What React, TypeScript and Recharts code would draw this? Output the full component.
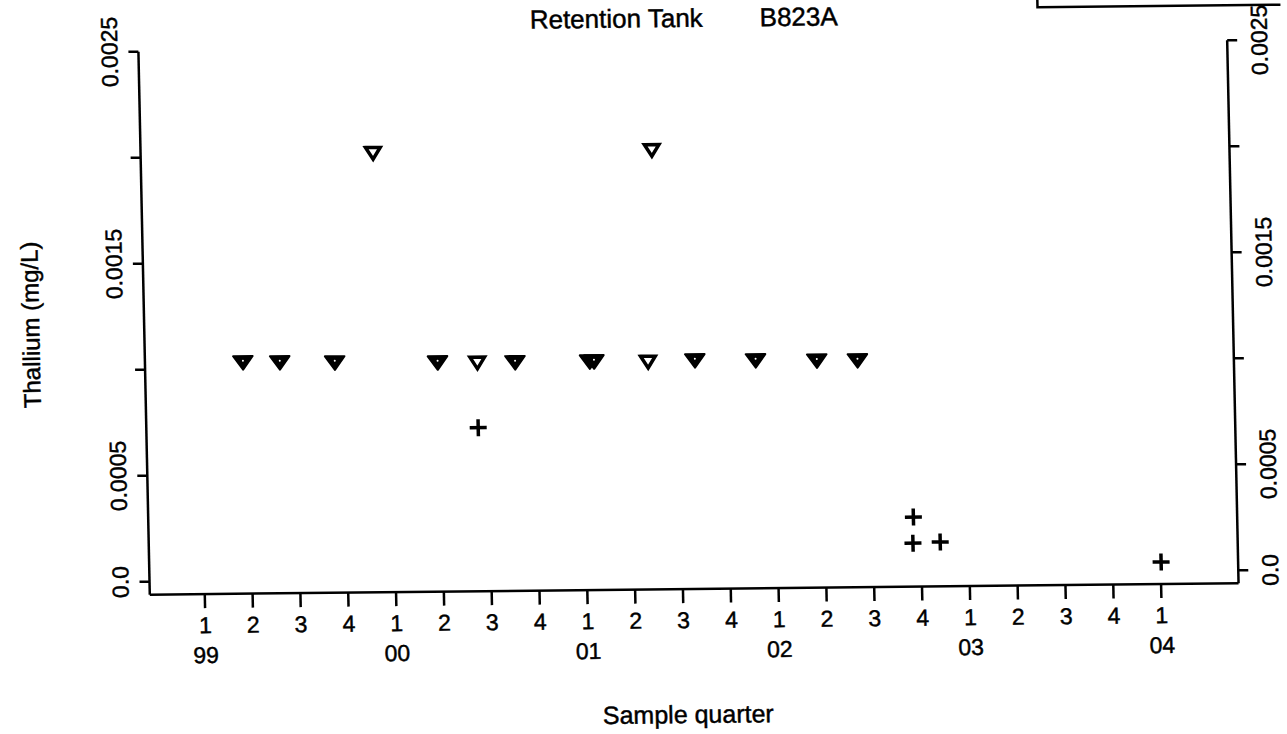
import React from 'react';
import { ScatterChart, Scatter, XAxis, YAxis } from 'recharts';

// ---- data (x = quarter index, 0 = 1999 Q1; y = Thallium mg/L) ----
const filledQuarter = [0.9, 1.67, 2.82, 4.97, 6.59, 8.15, 8.24, 10.35, 11.62, 12.9, 13.75];
const filledValue = [0.001028, 0.001026, 0.001023, 0.001018, 0.001015, 0.001015, 0.001015, 0.001015, 0.001012, 0.001008, 0.001007];

const openQuarter = [3.71, 5.8, 9.37, 9.54];
const openValue = [0.00201, 0.001016, 0.001012, 0.00201];

const crossQuarter = [5.79, 14.85, 14.83, 15.4, 20.01];
const crossValue = [0.00071, 0.000267, 0.000144, 0.000148, 0.000043];

const quarterTicks = [0, 1, 2, 3, 4, 5, 6, 7, 8, 9, 10, 11, 12, 13, 14, 15, 16, 17, 18, 19, 20];
const quarterLabels = ['1', '2', '3', '4', '1', '2', '3', '4', '1', '2', '3', '4', '1', '2', '3', '4', '1', '2', '3', '4', '1'];
const yearLabels = ['99', '00', '01', '02', '03', '04'];

const yTicks = [0, 0.0005, 0.001, 0.0015, 0.002, 0.0025];
const yTickLabels = ['0.0', '0.0005', '', '0.0015', '', '0.0025'];

const titleLeft = 'Retention Tank';
const titleRight = 'B823A';
const xTitle = 'Sample quarter';
const yTitle = 'Thallium (mg/L)';

const FONT = '"Liberation Sans", Arial, Helvetica, sans-serif';
const FS = 23;
const TXT_STROKE = 0.45;

const filledData = filledQuarter.map((q, i) => ({ q, v: filledValue[i] }));
const openData = openQuarter.map((q, i) => ({ q, v: openValue[i] }));
const crossData = crossQuarter.map((q, i) => ({ q, v: crossValue[i] }));

const FilledTri = (p: any) => {
  const { cx, cy } = p;
  return (
    <g>
      <path
        d={`M${cx - 9.8},${cy - 6.6} L${cx + 9.8},${cy - 6.6} L${cx},${cy + 7} Z`}
        fill="#000"
        stroke="#000"
        strokeWidth={2}
        strokeLinejoin="round"
      />
      <circle cx={cx} cy={cy - 2} r={1} fill="#fff" />
    </g>
  );
};

const OpenTri = (p: any) => {
  const { cx, cy } = p;
  return (
    <path
      d={`M${cx - 7.3},${cy - 5.6} L${cx + 7.3},${cy - 5.6} L${cx},${cy + 6} Z`}
      fill="none"
      stroke="#000"
      strokeWidth={3.5}
      strokeLinejoin="miter"
    />
  );
};

const Cross = (p: any) => {
  const { cx, cy } = p;
  return (
    <g stroke="#000" strokeWidth={3.5}>
      <line x1={cx - 8.5} y1={cy} x2={cx + 8.5} y2={cy} />
      <line x1={cx} y1={cy - 8.5} x2={cx} y2={cy + 8.5} />
    </g>
  );
};

const XTick = (props: any) => {
  const { x, y, payload } = props;
  const v = Math.round(payload.value);
  const i = quarterTicks.indexOf(v);
  return (
    <g fontFamily={FONT} fontSize={FS} fill="#000" stroke="#000" strokeWidth={TXT_STROKE}>
      <text x={x} y={y + 25} textAnchor="middle">{quarterLabels[i]}</text>
      {v % 4 === 0 && (
        <text x={x} y={y + 55} textAnchor="middle">{yearLabels[v / 4]}</text>
      )}
    </g>
  );
};

const makeYTick = (dx: number) => (props: any) => {
  const { x, y, payload } = props;
  const i = yTicks.indexOf(payload.value);
  const label = i >= 0 ? yTickLabels[i] : '';
  if (!label) return <g />;
  return (
    <text
      x={0}
      y={0}
      transform={`translate(${x + dx},${y}) rotate(-90)`}
      textAnchor="middle"
      fontFamily={FONT}
      fontSize={FS}
      fill="#000"
      stroke="#000"
      strokeWidth={TXT_STROKE}
    >
      {label}
    </text>
  );
};

const LeftTick = makeYTick(-11);
const RightTick = makeYTick(30);

const W = 1287;
const H = 734;
const X_DOMAIN: [number, number] = [-1.15, 21.62];
const Y_DOMAIN: [number, number] = [-0.0000613, 0.0025];
const lineStyle = { stroke: '#000', strokeWidth: 2.5 };

export default function App() {
  return (
    <div style={{ position: 'absolute', left: 0, top: 0, width: W, height: H, background: '#fff', overflow: 'hidden' }}>
      <div
        style={{
          position: 'absolute',
          left: 0,
          top: 0,
          width: W,
          height: H,
          transform: 'skewX(1.2deg) skewY(-0.6deg)',
          transformOrigin: '688px 318px',
        }}
      >
        <ScatterChart width={W} height={H} margin={{ top: 46, right: 0, bottom: 0, left: 0 }}>
          <XAxis
            xAxisId="bottom"
            type="number"
            dataKey="q"
            domain={X_DOMAIN}
            ticks={quarterTicks}
            interval={0}
            allowDataOverflow
            height={145}
            tickSize={14}
            tickMargin={0}
            axisLine={lineStyle}
            tickLine={lineStyle}
            tick={<XTick />}
          />
          <XAxis
            xAxisId="top"
            orientation="top"
            type="number"
            dataKey="q"
            domain={X_DOMAIN}
            allowDataOverflow
            height={0}
            tick={false}
            tickLine={false}
            axisLine={lineStyle}
          />
          <YAxis
            yAxisId="left"
            type="number"
            dataKey="v"
            domain={Y_DOMAIN}
            ticks={yTicks}
            interval={0}
            allowDataOverflow
            width={144}
            tickSize={10}
            tickMargin={0}
            axisLine={lineStyle}
            tickLine={lineStyle}
            tick={LeftTick}
          />
          <YAxis
            yAxisId="right"
            orientation="right"
            type="number"
            dataKey="v"
            domain={Y_DOMAIN}
            ticks={yTicks}
            interval={0}
            allowDataOverflow
            width={54}
            tickSize={10}
            tickMargin={0}
            axisLine={lineStyle}
            tickLine={lineStyle}
            tick={RightTick}
          />
          <Scatter
            name="filled"
            data={filledData}
            xAxisId="bottom"
            yAxisId="left"
            shape={FilledTri}
            isAnimationActive={false}
          />
          <Scatter
            name="open"
            data={openData}
            xAxisId="bottom"
            yAxisId="left"
            shape={OpenTri}
            isAnimationActive={false}
          />
          <Scatter
            name="cross"
            data={crossData}
            xAxisId="bottom"
            yAxisId="left"
            shape={Cross}
            isAnimationActive={false}
          />
        </ScatterChart>
        <svg
          width={W}
          height={H}
          style={{ position: 'absolute', left: 0, top: 0, pointerEvents: 'none' }}
        >
          <g fontFamily={FONT} fill="#000" stroke="#000" strokeWidth={TXT_STROKE}>
            <text x={536} y={27} fontSize={26} textAnchor="start">{titleLeft}</text>
            <text x={844} y={27} fontSize={26} textAnchor="end">{titleRight}</text>
            <text x={680} y={723} fontSize={25} textAnchor="middle">{xTitle}</text>
            <text x={0} y={0} fontSize={24} transform="translate(39,318) rotate(-90)" textAnchor="middle">{yTitle}</text>
          </g>
          <rect x={1044} y={-20} width={320} height={31} fill="none" stroke="#000" strokeWidth={2.5} />
        </svg>
      </div>
    </div>
  );
}
